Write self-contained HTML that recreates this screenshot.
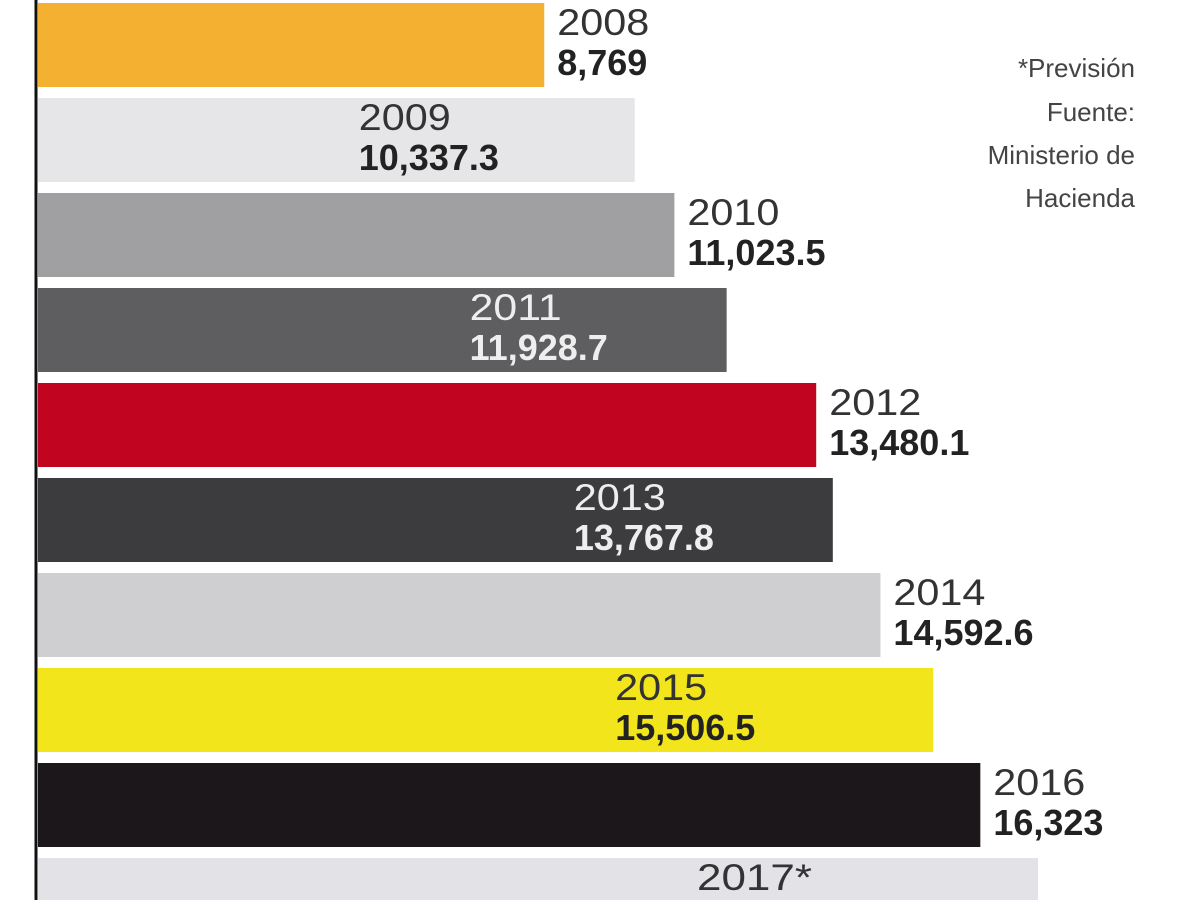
<!DOCTYPE html>
<html><head><meta charset="utf-8"><style>
html,body{margin:0;padding:0;background:#fff;width:1200px;height:900px;overflow:hidden}
svg{display:block;font-family:"Liberation Sans",sans-serif}
</style></head><body>
<svg id="chart" width="1200" height="900" viewBox="0 0 1200 900" xmlns="http://www.w3.org/2000/svg">
<g id="bars"></g>
<line x1="36" y1="0" x2="36" y2="900" stroke="#111" stroke-width="3"/>
<g font-size="26" fill="#444" text-anchor="end">
<text x="1135" y="77">*Previsión</text>
<text x="1135" y="121">Fuente:</text>
<text x="1135" y="164">Ministerio de</text>
<text x="1135" y="207">Hacienda</text>
</g>
</svg>
<script>
const years = ["2008","2009","2010","2011","2012","2013","2014","2015","2016","2017*"];
const values = [8769, 10337.3, 11023.5, 11928.7, 13480.1, 13767.8, 14592.6, 15506.5, 16323, 17322];
const valueLabels = ["8,769","10,337.3","11,023.5","11,928.7","13,480.1","13,767.8","14,592.6","15,506.5","16,323","17,322"];
const colors = ["#f4b030","#e6e6e8","#a0a0a2","#5e5e60","#c10520","#3c3b3e","#cfcfd1","#f3e51c","#1c171b","#e3e3e7"];
const inside = [false,true,false,true,false,true,false,true,false,true];
const insideInset = [0,276,0,257,0,259,0,318,0,341];
const textColors = ["#333","#333","#333","#eee","#333","#eee","#333","#333","#333","#333"];

const x0 = 38, scale = 0.05773;
const xPos = v => x0 + v * scale;
const rowTop = i => 3 + i * 95;
const barH = 84;
const NS = "http://www.w3.org/2000/svg";
const g = document.getElementById("bars");
years.forEach((yr, i) => {
  const end = xPos(values[i]);
  const r = document.createElementNS(NS, "rect");
  
  
  r.setAttribute("x", x0); r.setAttribute("y", rowTop(i));
  r.setAttribute("width", end - x0); r.setAttribute("height", barH);
  r.setAttribute("fill", colors[i]);
  g.appendChild(r);
  const tx = inside[i] ? end - insideInset[i] : end + 13;
  const fill = inside[i] ? textColors[i] : "#333";
  const t1 = document.createElementNS(NS, "text");
  
  
  t1.setAttribute("x", tx); t1.setAttribute("y", rowTop(i) + 32);
  t1.setAttribute("font-size", "37"); t1.setAttribute("fill", fill);
  t1.setAttribute("textLength", yr.length * 23); t1.setAttribute("lengthAdjust","spacingAndGlyphs");
  t1.textContent = yr;
  g.appendChild(t1);
  const t2 = document.createElementNS(NS, "text");
  
  
  t2.setAttribute("x", tx); t2.setAttribute("y", rowTop(i) + 72);
  t2.setAttribute("font-size", "36"); t2.setAttribute("font-weight", "bold");
  t2.setAttribute("fill", inside[i] && textColors[i]==="#eee" ? "#eee" : "#222");
  t2.textContent = valueLabels[i];
  g.appendChild(t2);
});
</script>
</body></html>
